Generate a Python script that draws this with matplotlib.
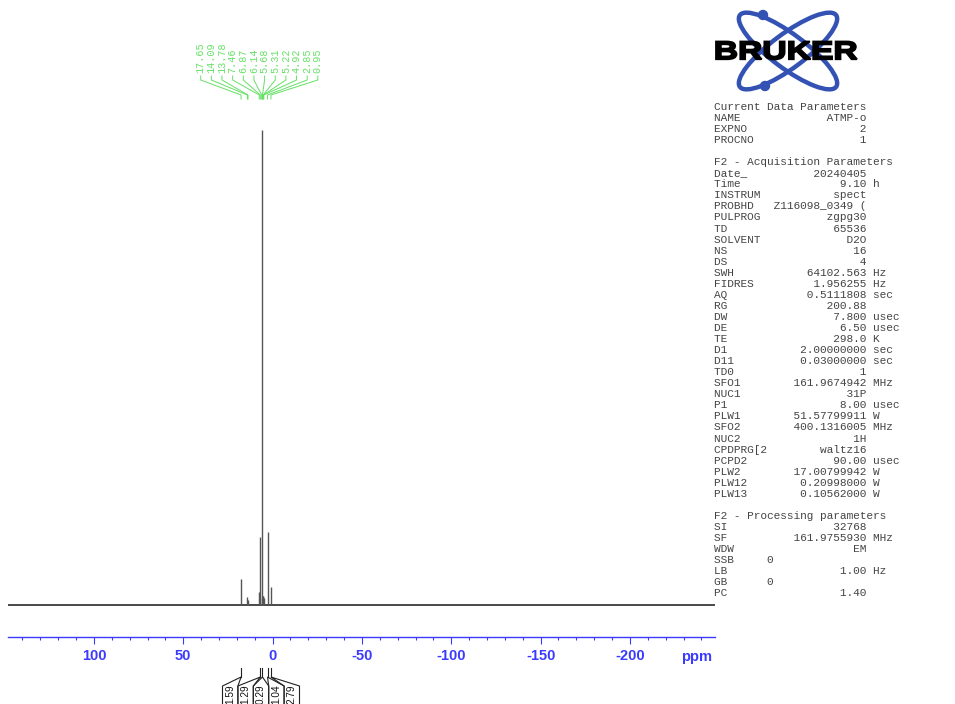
import numpy as np
import matplotlib
matplotlib.use("Agg")
import matplotlib.pyplot as plt
from matplotlib.patches import Ellipse, Circle, PathPatch, Polygon
from matplotlib.textpath import TextPath
from matplotlib.font_manager import FontProperties
from matplotlib.transforms import Affine2D
from matplotlib.ticker import MultipleLocator

# 31P spectrum, ppm axis
ppm_left = 148.1
ppm_right = -247.6

peak_ppm = [17.65, 14.09, 13.78, 7.46, 6.87, 6.14, 5.68, 5.31, 5.22, 4.92, 2.85, 0.95]
peak_height = [5.5, 1.7, 1.0, 2.7, 14.3, 1.5, 100.0, 2.0, 2.0, 1.5, 15.4, 3.8]

integral_ppm = [17.65, 6.87, 5.68, 2.85, 0.95]
integral_labels = ["1.59", "1.29", "0.29", "1.04", "2.79"]

major_ticks = [100, 50, 0, -50, -100, -150, -200]
major_labels = ["100", "50", "0", "-50", "-100", "-150", "-200"]

current_params = [("NAME", "ATMP-o", ""), ("EXPNO", "2", ""), ("PROCNO", "1", "")]
acq_params = [
    ("Date_", "20240405", ""), ("Time", "9.10", "h"), ("INSTRUM", "spect", ""),
    ("PROBHD", "Z116098_0349 (", ""), ("PULPROG", "zgpg30", ""), ("TD", "65536", ""),
    ("SOLVENT", "D2O", ""), ("NS", "16", ""), ("DS", "4", ""),
    ("SWH", "64102.563", "Hz"), ("FIDRES", "1.956255", "Hz"), ("AQ", "0.5111808", "sec"),
    ("RG", "200.88", ""), ("DW", "7.800", "usec"), ("DE", "6.50", "usec"),
    ("TE", "298.0", "K"), ("D1", "2.00000000", "sec"), ("D11", "0.03000000", "sec"),
    ("TD0", "1", ""), ("SFO1", "161.9674942", "MHz"), ("NUC1", "31P", ""),
    ("P1", "8.00", "usec"), ("PLW1", "51.57799911", "W"), ("SFO2", "400.1316005", "MHz"),
    ("NUC2", "1H", ""), ("CPDPRG[2", "waltz16", ""), ("PCPD2", "90.00", "usec"),
    ("PLW2", "17.00799942", "W"), ("PLW12", "0.20998000", "W"), ("PLW13", "0.10562000", "W"),
]
proc_params = [
    ("SI", "32768", ""), ("SF", "161.9755930", "MHz"), ("WDW", "EM", ""),
    ("SSB", "0", "left"), ("LB", "1.00", "Hz"), ("GB", "0", "left"), ("PC", "1.40", ""),
]

blue = "#3b3bff"
green = "#66e066"
W, H = 955, 704

fig = plt.figure(figsize=(W / 100, H / 100), dpi=100)

# overlay in pixel units for the annotations
over = fig.add_axes([0, 0, 1, 1])
over.set_xlim(0, W)
over.set_ylim(H, 0)
over.axis("off")

# spectrum axes
ax_top, ax_bot, ax_l, ax_r = 100, 636.7, 8, 715
ax = fig.add_axes([ax_l / W, (H - ax_bot) / H, (ax_r - ax_l) / W, (ax_bot - ax_top) / H])
ax.set_xlim(ppm_left, ppm_right)
ax.set_ylim(-6.67, 106.3)
ax.patch.set_alpha(0)
for s in ["left", "right", "top"]:
    ax.spines[s].set_visible(False)
ax.spines["bottom"].set_color(blue)
ax.spines["bottom"].set_linewidth(1.0)
ax.set_yticks([])
ax.set_xticks(major_ticks)
ax.set_xticklabels(major_labels, fontsize=10.5, fontweight="bold", color=blue,
                   family="Liberation Sans")
ax.xaxis.set_minor_locator(MultipleLocator(10))
ax.tick_params(axis="x", which="major", length=5, width=0.8, color=blue, pad=4.2)
ax.tick_params(axis="x", which="minor", length=2.5, width=0.8, color=blue)

ax.axhline(0, color="#3a3a3a", lw=1.3)
ax.vlines(peak_ppm, 0, peak_height, color="#555555", lw=1.0)

over.text(697, 657, "ppm", ha="center", va="center", fontsize=10.5, fontweight="bold",
          color=blue, family="Liberation Sans")


def ppm_to_px(p):
    return ax.transData.transform((p, 0))[0]


# peak labels with brackets
label_x = [200.7 + 10.65 * i for i in range(len(peak_ppm))]
for lx, p in zip(label_x, peak_ppm):
    px = ppm_to_px(p)
    over.text(lx, 73, f"{p:.2f}", rotation=90, ha="center", va="bottom", fontsize=7.3,
              family="Liberation Mono", color=green)
    over.plot([lx, lx, px, px], [76, 80, 95, 99], color=green, lw=0.7)

# integral boxes below the axis
box_w = 15.4
box_left0 = 222.5
for i, (p, lab) in enumerate(zip(integral_ppm, integral_labels)):
    mx = ppm_to_px(p)
    over.plot([mx, mx], [668, 677], color="#222222", lw=0.8)
    l = box_left0 + i * box_w
    r = l + box_w
    over.add_patch(Polygon([(l, 720), (l, 686), (mx, 677), (r, 686), (r, 720)],
                           closed=False, fill=False, edgecolor="#222222", lw=0.8,
                           clip_on=False))
    over.text((l + r) / 2, 684.5, lab, rotation=90, ha="center", va="top", fontsize=7.2,
              color="#111111", family="Liberation Sans")

# logo
logo_blue = "#3452b4"
cx, cy = 788, 51
for ang in (36.7, -36.7):
    over.add_patch(Ellipse((cx, cy), 120, 34, angle=ang, fill=False,
                           edgecolor=logo_blue, lw=3.2))
over.add_patch(Circle((763, 15), 4.5, color=logo_blue))
over.add_patch(Circle((765, 86), 4.5, color=logo_blue))
tp = TextPath((0, 0), "BRUKER", size=1, prop=FontProperties(family="Liberation Sans",
                                                             weight="bold"))
ext = tp.get_extents()
tr = (Affine2D().translate(-ext.x0, -ext.y0)
      .scale(141 / ext.width, -18 / ext.height).translate(716, 59.5))
over.add_patch(PathPatch(tr.transform_path(tp), facecolor="black", edgecolor="black",
                         lw=1.3, joinstyle="miter"))

# acquisition / processing parameters
def fmt(name, value, unit):
    if unit == "left":
        return f"{name:<8}{value}"
    line = name + value.rjust(23 - len(name))
    if unit:
        line += " " + unit
    return line

lines = ["Current Data Parameters"]
lines += [fmt(*p) for p in current_params]
lines += ["", "F2 - Acquisition Parameters"]
lines += [fmt(*p) for p in acq_params]
lines += ["", "F2 - Processing parameters"]
lines += [fmt(*p) for p in proc_params]

for i, txt in enumerate(lines):
    over.text(714, 107 + 11.05 * i, txt, ha="left", va="center", fontsize=8,
              family="Liberation Mono", color="#444444")

fig.savefig("out.png", dpi=100)
